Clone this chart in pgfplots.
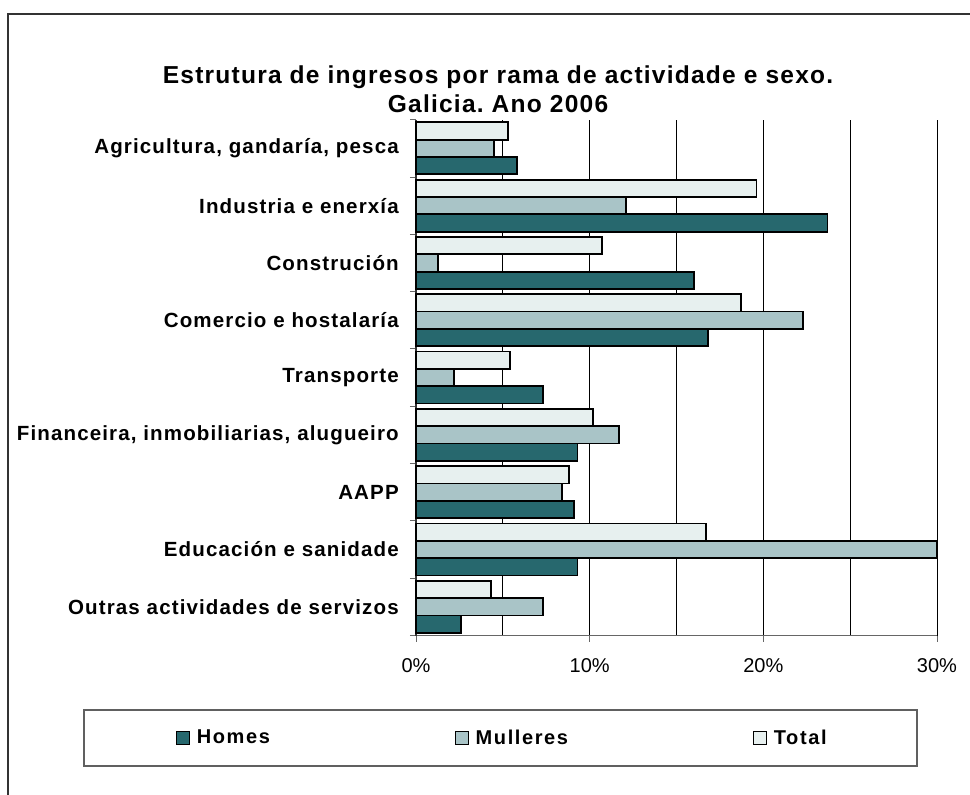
\documentclass[border=0pt]{standalone}
\usepackage{pgfplots}
\pgfplotsset{compat=1.18}
\usepackage{pgfplotstable}
\usepackage{fontspec}
\setmainfont{Liberation Sans}
\newfontfamily\spacedT[LetterSpace=5.0]{Liberation Sans}
\newfontfamily\spacedL[LetterSpace=5.5]{Liberation Sans}
\newfontfamily\spacedG[LetterSpace=8.0]{Liberation Sans}
\definecolor{cH}{HTML}{27686E}
\definecolor{cM}{HTML}{A9C4C7}
\definecolor{cT}{HTML}{E7F0EF}
\frenchspacing
\pgfplotstableread{
y H M T
8 5.8 4.5 5.3
7 23.7 12.1 19.6
6 16.0 1.25 10.7
5 16.8 22.3 18.7
4 7.3 2.2 5.4
3 9.3 11.7 10.2
2 9.1 8.4 8.8
1 9.3 30.0 16.7
0 2.6 7.3 4.3
}\data
\begin{document}
\frenchspacing
\begin{tikzpicture}[x=0.75pt,y=0.75pt]
\useasboundingbox (0,0) rectangle (970,794);
\draw[line width=1.1pt, black!80] (8,-10) -- (8,780) -- (990,780);
\node[font=\spacedT\bfseries\fontsize{18.4}{22}\selectfont, anchor=base] at (498,710) {Estrutura de ingresos por rama de actividade e sexo.};
\node[font=\spacedT\bfseries\fontsize{18.4}{22}\selectfont, anchor=base] at (498,681) {Galicia.\ Ano 2006};
\draw[gray!75!black, line width=1.1pt] (84,28) rectangle (917,84);
\begin{axis}[
  at={(312pt,118.875pt)}, anchor=south west,
  scale only axis, width=390.75pt, height=386.85pt,
  xbar=0pt, bar width=13pt,
  xmin=0, xmax=30, ymin=-0.5, ymax=8.5,
  clip=false,
  axis x line*=bottom, axis y line*=left,
  x axis line style={draw=gray!80!black, line width=1.1pt},
  y axis line style={draw=black!80, line width=1.1pt},
  xtick={0,10,20,30}, xticklabels={0\%,10\%,20\%,30\%},
  minor xtick={5,15,25},
  xmajorgrids, xminorgrids,
  major grid style={black, line width=0.75pt},
  minor grid style={black, line width=0.75pt},
  ytick={0,...,8},
  yticklabels={Outras actividades de servizos, Educación e sanidade, AAPP, {Financeira, inmobiliarias, alugueiro}, Transporte, Comercio e hostalaría, Construción, Industria e enerxía, {Agricultura, gandaría, pesca}},
  minor ytick={-0.5,0.5,...,8.5},
  tick align=outside,
  major tick length=4.5pt, minor tick length=4.5pt,
  major y tick style={draw=none},
  minor x tick style={draw=none},
  major x tick style={draw=gray!80!black, line width=0.75pt},
  minor y tick style={draw=gray!80!black, line width=0.75pt},
  yticklabel style={font=\spacedL\bfseries\fontsize{15.4}{18}\selectfont, anchor=east, inner sep=0pt, xshift=-8.25pt},
  xticklabel style={font=\fontsize{15}{18}\selectfont, anchor=north, inner sep=0pt, yshift=-12.4pt},
  legend columns=3,
  legend style={draw=none, fill=none, at={(0.166,-0.1987)}, anchor=center,
    font=\spacedG\bfseries\fontsize{15}{18}\selectfont,
    /tikz/every odd column/.append style={column sep=3pt},
    /tikz/every even column/.append style={column sep=136.5pt}},
  legend image code/.code={\draw[#1, line width=1.1pt] (0pt,-4.9pt) rectangle (9.75pt,4.9pt);},
]
\addplot[fill=cH, draw=black, line width=1.3pt] table[x=H, y=y] {\data};
\addplot[fill=cM, draw=black, line width=1.3pt] table[x=M, y=y] {\data};
\addplot[fill=cT, draw=black, line width=1.3pt] table[x=T, y=y] {\data};
\legend{Homes, Mulleres, Total}
\end{axis}
\end{tikzpicture}
\end{document}
